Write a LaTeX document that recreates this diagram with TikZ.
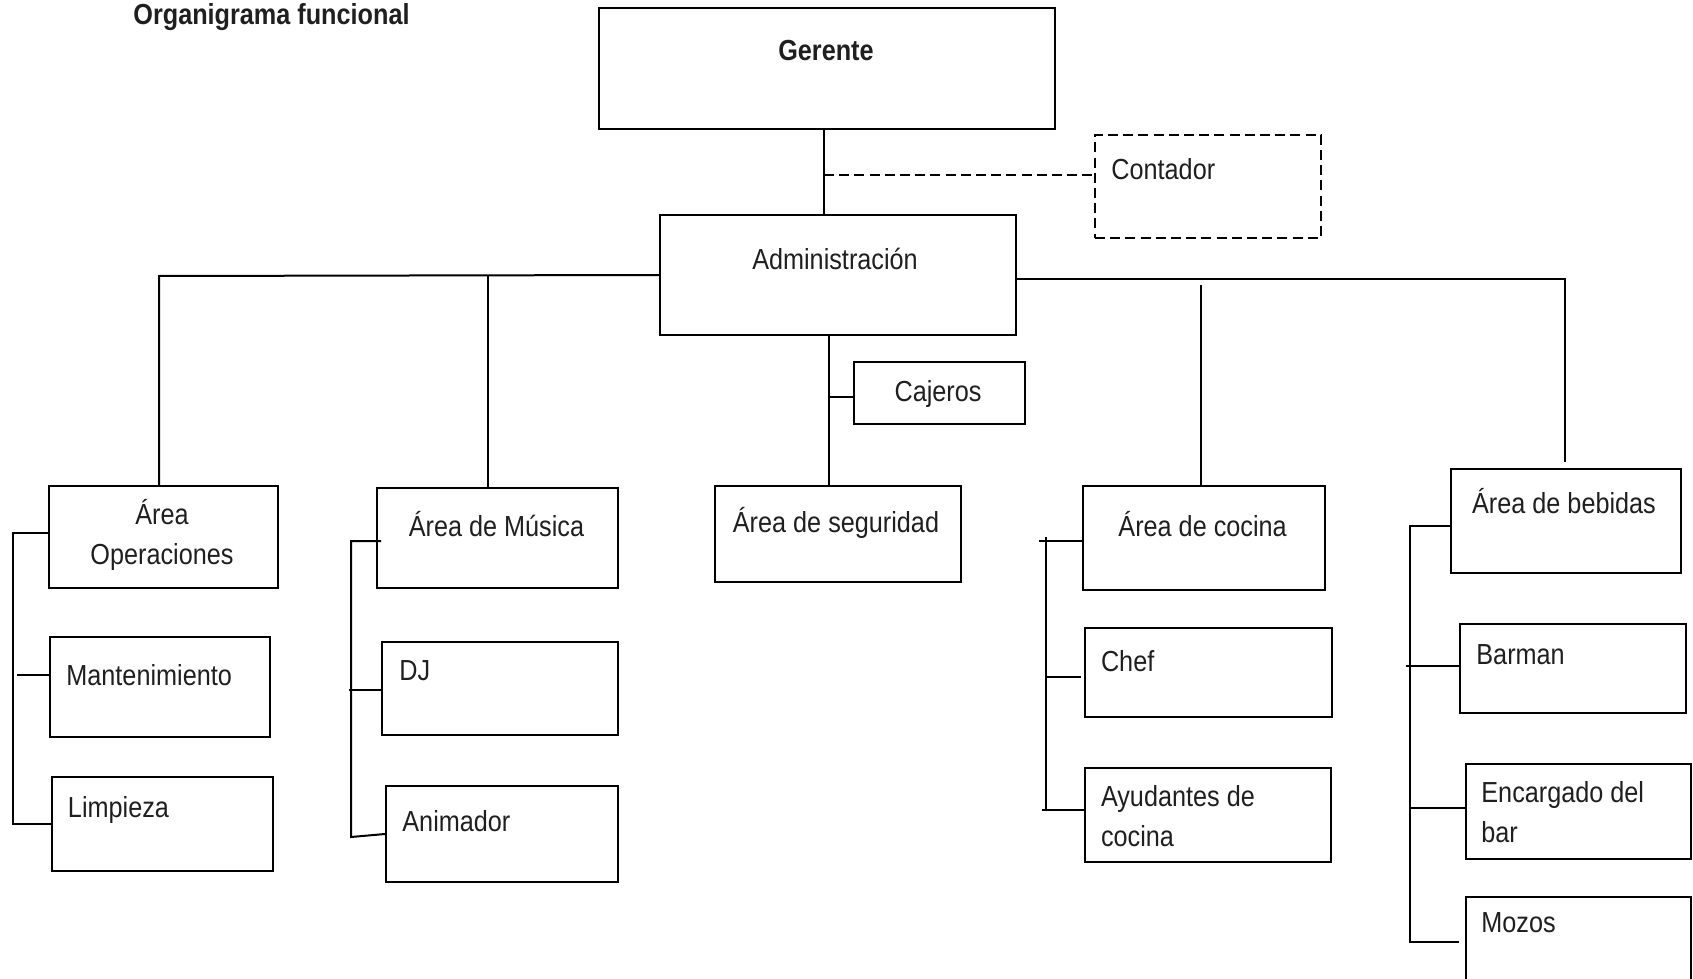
\documentclass[tikz,border=0pt]{standalone}
\usepackage{fontspec}
\setmainfont{Liberation Sans}[FakeStretch=0.87]
\usetikzlibrary{fit}
\begin{document}
\begin{tikzpicture}[x=0.5pt,y=-0.5pt,
  box/.style={draw, line width=1pt, inner sep=0pt},
  dbox/.style={box, dash pattern=on 5pt off 2.6pt},
  txt/.style={inner sep=0pt, font=\fontsize{14.5}{20}\selectfont, text=black!88},
  btxt/.style={txt, font=\fontsize{14.5}{20}\selectfont\bfseries},
  ln/.style={line width=1pt},
  dln/.style={ln, dash pattern=on 5pt off 2.6pt}]
\useasboundingbox (0,0) rectangle (1693,979);
\clip (0,0) rectangle (1693,979);

% title
\node[btxt, anchor=base west] (title) at (133,25) {Organigrama funcional};

% boxes
\node[box,  fit={(599,8) (1055,129)}] (ger) {};
\node[dbox, fit={(1095,135) (1321,238)}] (cont) {};
\node[box,  fit={(660,215) (1016,335)}] (adm) {};
\node[box,  fit={(854,362) (1025,424)}] (caj) {};
\node[box,  fit={(715,486) (961,582)}] (seg) {};
\node[box,  fit={(48.5,486) (278,588)}] (aop) {};
\node[box,  fit={(50,637) (269.5,737)}] (man) {};
\node[box,  fit={(52,777) (273,871)}] (lim) {};
\node[box,  fit={(377,488) (618,588)}] (mus) {};
\node[box,  fit={(382,642) (618,735)}] (dj) {};
\node[box,  fit={(386,786) (618,882)}] (ani) {};
\node[box,  fit={(1083,486) (1325,590)}] (coc) {};
\node[box,  fit={(1085,628) (1332,717)}] (chef) {};
\node[box,  fit={(1085,768) (1331,862)}] (ayu) {};
\node[box,  fit={(1451,469) (1681,573)}] (beb) {};
\node[box,  fit={(1460,624) (1686,712.5)}] (bar) {};
\node[box,  fit={(1465.5,764) (1691,859)}] (enc) {};
\node[box,  fit={(1465.5,897) (1691,1010)}] (moz) {};

% texts
\node[btxt, anchor=base] (ger-t) at (826,61) {Gerente};
\node[txt, anchor=base west] (cont-t) at (1111,180) {Contador};
\node[txt, anchor=base] (adm-t) at (835,269) {Administración};
\node[txt, anchor=base] (caj-t) at (938,401) {Cajeros};
\node[txt, anchor=base] (seg-t) at (836,532) {Área de seguridad};
\node[txt, anchor=base] (aop-t) at (162,524) {\begin{tabular}[t]{@{}c@{}}Área\\Operaciones\end{tabular}};
\node[txt, anchor=base west] (man-t) at (66,685) {Mantenimiento};
\node[txt, anchor=base west] (lim-t) at (67.6,817.5) {Limpieza};
\node[txt, anchor=base] (mus-t) at (496.5,536) {Área de Música};
\node[txt, anchor=base west] (dj-t) at (399,680) {DJ};
\node[txt, anchor=base west] (ani-t) at (402,831) {Animador};
\node[txt, anchor=base] (coc-t) at (1202.6,536) {Área de cocina};
\node[txt, anchor=base west] (chef-t) at (1100.6,671) {Chef};
\node[txt, anchor=base west] (ayu-t) at (1100.6,806) {\begin{tabular}[t]{@{}l@{}}Ayudantes de\\cocina\end{tabular}};
\node[txt, anchor=base] (beb-t) at (1564,513.4) {Área de bebidas};
\node[txt, anchor=base west] (bar-t) at (1476,664) {Barman};
\node[txt, anchor=base west] (enc-t) at (1481,802) {\begin{tabular}[t]{@{}l@{}}Encargado del\\bar\end{tabular}};
\node[txt, anchor=base west] (moz-t) at (1481,932.5) {Mozos};

% Gerente - Administracion, Contador
\coordinate (gx) at (824,175);
\draw[ln] (ger.south -| gx) -- (gx |- adm.north);
\draw[dln] (gx) -- (gx -| cont.west);

% left branches
\coordinate (lc1) at (159,276);
\coordinate (lc2) at (488,276);
\draw[ln] (adm.west) -- (lc1) -- (lc1 |- aop.north);
\draw[ln] (lc2) -- (lc2 |- mus.north);

% right branches
\coordinate (rc1) at (1565,279);
\coordinate (rc2) at (1565,462);
\coordinate (cc) at (1201,285);
\draw[ln] (adm.east |- rc1) -- (rc1) -- (rc2);
\draw[ln] (cc) -- (cc |- coc.north);

% below Administracion
\coordinate (sx) at (829,397);
\draw[ln] (sx |- adm.south) -- (sx |- seg.north);
\draw[ln] (sx) -- (sx -| caj.west);

% Operaciones bracket
\coordinate (ob1) at (13,533);
\coordinate (ob2) at (13,824);
\coordinate (ob3) at (17,675);
\draw[ln] (ob1 -| aop.west) -- (ob1) -- (ob2) -- (ob2 -| lim.west);
\draw[ln] (ob3) -- (ob3 -| man.west);

% Musica bracket
\coordinate (mb0) at (381,541);
\coordinate (mb1) at (351,541);
\coordinate (mb2) at (351,837);
\coordinate (mb3) at (349,690);
\draw[ln] (mb0) -- (mb1) -- (mb2) -- (ani.west);
\draw[ln] (mb3) -- (mb3 -| dj.west);

% Cocina bracket
\coordinate (cb0) at (1039,541);
\coordinate (cb1) at (1046,537);
\coordinate (cb2) at (1046,810);
\coordinate (cb3) at (1042,810);
\coordinate (cb4) at (1046,677);
\coordinate (cb5) at (1081,677);
\draw[ln] (cb0) -- (cb0 -| coc.west);
\draw[ln] (cb1) -- (cb2);
\draw[ln] (cb3) -- (cb3 -| ayu.west);
\draw[ln] (cb4) -- (cb5);

% Bebidas bracket
\coordinate (bb1) at (1410,526);
\coordinate (bb2) at (1410,942);
\coordinate (bb3) at (1406,666);
\coordinate (bb4) at (1410,807.6);
\coordinate (bb5) at (1459,942);
\draw[ln] (bb1 -| beb.west) -- (bb1) -- (bb2) -- (bb5);
\draw[ln] (bb3) -- (bb3 -| bar.west);
\draw[ln] (bb4) -- (bb4 -| enc.west);
\end{tikzpicture}
\end{document}
